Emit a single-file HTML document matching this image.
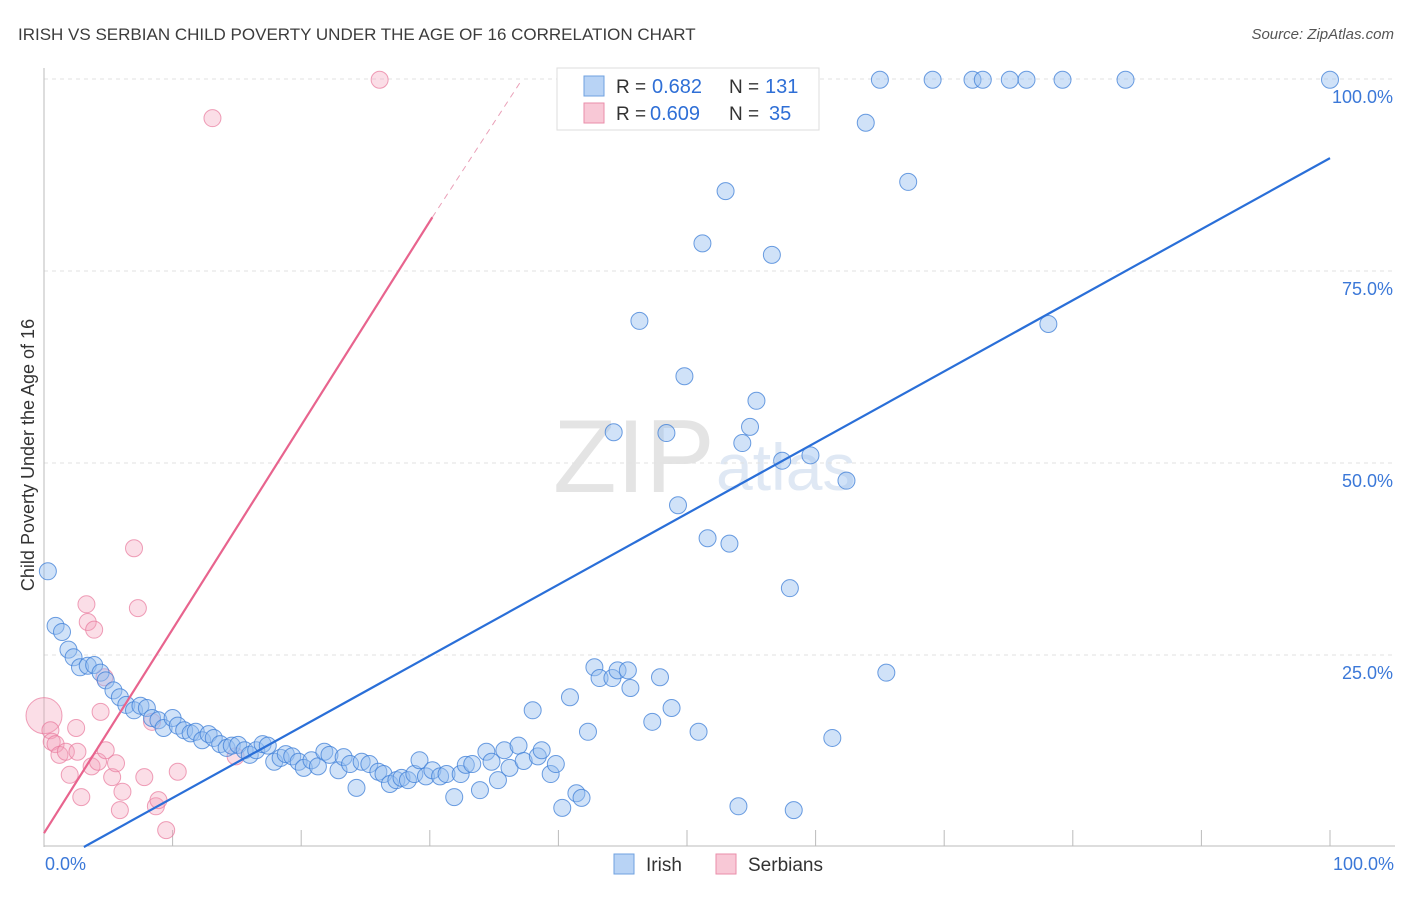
<!DOCTYPE html>
<html><head><meta charset="utf-8"><style>
body{margin:0;background:#fff;font-family:"Liberation Sans",sans-serif}
svg text{font-family:"Liberation Sans",sans-serif}
</style></head><body>
<svg id="chart" width="1406" height="892">
<text x="18" y="40" font-size="17" fill="#3c3c3c">IRISH VS SERBIAN CHILD POVERTY UNDER THE AGE OF 16 CORRELATION CHART</text>
<text x="1394" y="39" font-size="15" fill="#555" text-anchor="end" font-style="italic">Source: ZipAtlas.com</text>
<text x="553" y="492" font-size="104" fill="#e4e4e4" font-family="Liberation Serif">ZIP</text>
<text x="716" y="490" font-size="66" fill="#dfe8f4">atlas</text>
<text transform="translate(34,455) rotate(-90)" font-size="18" fill="#333" text-anchor="middle">Child Poverty Under the Age of 16</text>
<g id="grid"></g><g id="pts"></g><g id="lines"></g>
<g>
<rect x="557" y="68" width="262" height="62" fill="#fff" stroke="#ddd"/>
<rect x="584" y="76" width="20" height="20" fill="#b8d3f5" stroke="#6fa1e0"/>
<text x="616" y="93" font-size="19" fill="#333">R =</text>
<text x="652" y="93" font-size="20" fill="#2f6fd6">0.682</text>
<text x="729" y="93" font-size="19" fill="#333">N =</text>
<text x="765" y="93" font-size="20" fill="#2f6fd6">131</text>
<rect x="584" y="103" width="20" height="20" fill="#f8c8d6" stroke="#ea8eaa"/>
<text x="616" y="120" font-size="19" fill="#333">R =</text>
<text x="650" y="120" font-size="20" fill="#2f6fd6">0.609</text>
<text x="729" y="120" font-size="19" fill="#333">N =</text>
<text x="769" y="120" font-size="20" fill="#2f6fd6">35</text>
</g>
<g>
<rect x="614" y="854" width="20" height="20" fill="#b8d3f5" stroke="#6fa1e0"/>
<text x="646" y="871" font-size="19" fill="#333">Irish</text>
<rect x="716" y="854" width="20" height="20" fill="#f8c8d6" stroke="#ea8eaa"/>
<text x="748" y="871" font-size="19" fill="#333">Serbians</text>
</g>
</svg>
<script>
const yTicks=[25,50,75,100];
const yTickLabels=["25.0%","50.0%","75.0%","100.0%"];
const xEndLabels=["0.0%","100.0%"];
const irishX=[0.3,0.9,1.4,1.9,2.3,2.8,3.4,3.9,4.4,4.8,5.4,5.9,6.4,7.0,7.5,8.0,8.4,8.9,9.3,10.0,10.4,10.9,11.4,11.8,12.3,12.8,13.2,13.7,14.2,14.6,15.1,15.6,16.0,16.5,17.0,17.4,17.9,18.4,18.8,19.3,19.8,20.2,20.8,21.3,21.8,22.2,22.9,23.3,23.8,24.3,24.7,25.3,26.0,26.4,26.9,27.4,27.8,28.3,28.8,29.2,29.7,30.2,30.8,31.3,31.9,32.4,32.8,33.3,33.9,34.4,34.8,35.3,35.8,36.2,36.9,37.3,38.0,38.4,38.7,39.4,39.8,40.3,40.9,41.4,41.8,42.3,42.8,43.2,44.2,44.6,45.4,45.6,47.3,47.9,48.8,50.9,54.0,58.3,61.3,65.5,58.0,51.6,53.3,49.3,62.4,57.4,59.6,54.3,54.9,55.4,44.3,48.4,49.8,46.3,78.1,51.2,56.6,53.0,67.2,63.9,46.9,56.9,59.0,65.0,69.1,72.2,73.0,75.1,76.4,79.2,84.1,100];
const irishY=[35.9,28.8,28.0,25.7,24.7,23.4,23.6,23.7,22.7,21.7,20.4,19.5,18.5,17.8,18.4,18.1,16.8,16.5,15.5,16.8,15.8,15.2,14.8,15.0,13.9,14.7,14.2,13.4,12.9,13.2,13.3,12.6,12.0,12.6,13.4,13.2,11.1,11.6,12.1,11.8,11.1,10.3,11.3,10.5,12.4,12.0,10.0,11.7,10.8,7.7,11.1,10.8,9.8,9.5,8.2,8.7,9.0,8.7,9.5,11.3,9.2,10.0,9.2,9.5,6.5,9.5,10.7,10.8,7.4,12.4,11.1,8.7,12.6,10.3,13.2,11.2,17.8,11.8,12.6,9.5,10.8,5.1,19.5,7.0,6.4,15.0,23.4,22.0,22.0,23.0,23.0,20.7,16.3,22.1,18.1,15.0,5.3,4.8,14.2,22.7,33.7,40.2,39.5,44.5,47.7,50.3,51.0,52.6,54.7,58.1,54.0,53.9,61.3,68.5,68.1,78.6,77.1,85.4,86.6,94.3,98.2,99.9,99.9,99.9,99.9,99.9,99.9,99.9,99.9,99.9,99.9,99.9];
const serbX=[0,0.5,0.6,0.9,1.2,1.7,2.0,2.5,2.6,2.9,3.3,3.4,3.9,3.7,4.2,4.4,4.7,4.8,5.3,5.6,5.9,6.1,7.0,7.3,7.8,8.4,8.7,8.9,9.5,10.4,13.1,14.9,26.1];
const serbY=[17.1,15.2,13.7,13.4,12.0,12.4,9.4,15.5,12.4,6.5,31.6,29.3,28.3,10.5,11.1,17.6,22.1,12.6,9.1,10.9,4.8,7.2,38.9,31.1,9.1,16.3,5.3,6.1,2.2,9.8,94.9,11.8,99.9];
const irishFit=[3.1,0,100,89.7];
const serbFit=[0,1.8,30.2,82.0,37.2,100];

const NS="http://www.w3.org/2000/svg";
const X=v=>44+v*12.86, Y=v=>847-v*7.68;
function mk(t,a,p){const e=document.createElementNS(NS,t);for(const k in a)e.setAttribute(k,a[k]);p.appendChild(e);return e;}
const grid=document.getElementById('grid'),pts=document.getElementById('pts'),lines=document.getElementById('lines');
yTicks.forEach((v,i)=>{
 const l=mk('line',{x1:44,x2:1395,y1:Y(v),y2:Y(v),stroke:'#e2e2e2','stroke-dasharray':'4,4'},grid);
 
 
 const t=mk('text',{x:1393,y:Y(v)+24,'font-size':18,fill:'#3b78d8','text-anchor':'end'},grid);
 t.textContent=yTickLabels[i];
 
 
});
mk('line',{x1:44,x2:44,y1:68,y2:847,stroke:'#bbb'},grid);
mk('line',{x1:44,x2:1395,y1:846,y2:846,stroke:'#bbb'},grid);
for(let i=1;i<=10;i++){const tk=mk('line',{x1:X(i*10),x2:X(i*10),y1:830,y2:846,stroke:'#bbb'},grid);
 
 }
[[0,'start',45],[100,'end',1394]].forEach((d,i)=>{const t=mk('text',{x:d[2],y:870,'font-size':18,fill:'#3b78d8','text-anchor':d[1]},grid);t.textContent=xEndLabels[i];
 
 });
serbX.forEach((v,i)=>{const c=mk('circle',{cx:X(v),cy:Y(serbY[i]),r:i==0?18:8.5,fill:'rgba(244,160,185,0.35)',stroke:'rgba(232,120,155,0.7)','stroke-width':1},pts);
 
 });
irishX.forEach((v,i)=>{const c=mk('circle',{cx:X(v),cy:Y(irishY[i]),r:8.5,fill:'rgba(150,190,240,0.45)',stroke:'rgba(60,125,215,0.75)','stroke-width':1},pts);
 
 });
const bl=mk('line',{x1:X(irishFit[0]),y1:Y(irishFit[1]),x2:X(irishFit[2]),y2:Y(irishFit[3]),stroke:'#2a6fd8','stroke-width':2.2},lines);


const pl=mk('line',{x1:X(serbFit[0]),y1:Y(serbFit[1]),x2:X(serbFit[2]),y2:Y(serbFit[3]),stroke:'#e8648e','stroke-width':2.2},lines);


const pd=mk('line',{x1:X(serbFit[2]),y1:Y(serbFit[3]),x2:X(serbFit[4]),y2:Y(serbFit[5]),stroke:'#eaa0b8','stroke-width':1,'stroke-dasharray':'6,5'},lines);


</script>
</body></html>
